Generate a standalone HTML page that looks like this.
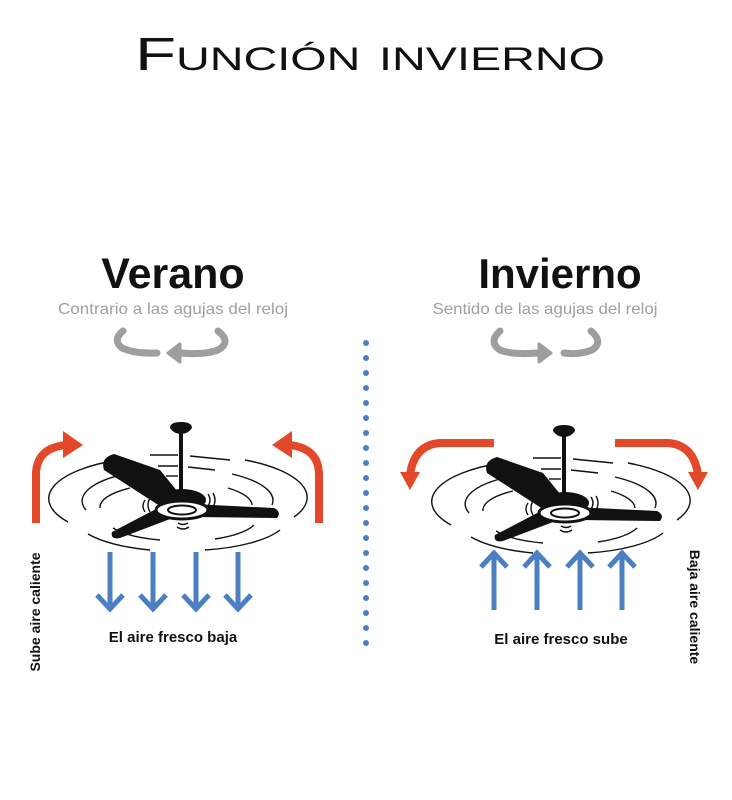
<!DOCTYPE html>
<html><head><meta charset="utf-8"><style>
html,body{margin:0;padding:0;background:#fff;}
svg{display:block;}
</style></head><body>
<svg width="732" height="800" viewBox="0 0 732 800" xmlns="http://www.w3.org/2000/svg">
<defs>
<g id="fan">
  <g fill="none" stroke="#111" stroke-width="1.4">
    <path d="M68,522 A114,42 0 0 1 118,460"/>
    <path d="M245,460 A114,42 0 0 1 294,517"/>
    <path d="M88,534 A102,34 0 0 0 150,550"/>
    <path d="M205,550 A102,34 0 0 0 280,530"/>
    <path d="M86,510 A94,32 0 0 1 130,473"/>
    <path d="M232,474 A94,32 0 0 1 272,505"/>
    <path d="M100,508 A76,24 0 0 1 130,488"/>
    <path d="M228,488 A76,24 0 0 1 252,505"/>
    <path d="M113,528 A76,24 0 0 0 160,540"/>
    <path d="M215,539 A76,24 0 0 0 254,525"/>
    <path d="M150,455 L178,455"/><path d="M190,456 L230,460"/>
    <path d="M158,466 L178,466"/><path d="M188,467 L215,470"/>
    <path d="M166,476 L178,476"/>
    <path d="M145,500 q-4,6 0,12"/><path d="M150,498 q-4,7 0,14"/>
    <path d="M208,494 q4,6 0,12"/><path d="M213,493 q4,7 0,14"/>
    <path d="M178,523 q5,3 10,0"/><path d="M177,527 q6,4 12,0"/>
  </g>
  <path d="M170,428 Q170,422 181,422 Q192,422 192,428 Q188,434 181,434 Q174,434 170,428Z" fill="#111"/>
  <rect x="179" y="432" width="4" height="62" fill="#111"/>
  <path d="M104,470 Q100,458 114,454 L160,470 L182,497 L163,508 Z" fill="#111"/>
  <path d="M192,504 L274,508 Q282,512 277,518 L196,517 Z" fill="#111"/>
  <path d="M158,508 L178,516 L120,538 Q110,540 112,532 Z" fill="#111"/>
  <ellipse cx="182" cy="500" rx="24" ry="11" fill="#111"/>
  <ellipse cx="182" cy="510" rx="26" ry="9" fill="#fff" stroke="#111" stroke-width="3"/>
  <ellipse cx="182" cy="510" rx="14" ry="4.5" fill="#fff" stroke="#111" stroke-width="2"/>
</g>
</defs>

<text x="135" y="70" textLength="470" lengthAdjust="spacingAndGlyphs" font-family="'Liberation Sans',sans-serif" font-size="46" style="font-variant:small-caps" fill="#111">Función invierno</text>

<text x="173" y="288" text-anchor="middle" font-family="'Liberation Sans',sans-serif" font-weight="bold" font-size="43" fill="#111">Verano</text>
<text x="173" y="314" text-anchor="middle" textLength="230" lengthAdjust="spacingAndGlyphs" font-family="'Liberation Sans',sans-serif" font-size="16" fill="#a0a0a0">Contrario a las agujas del reloj</text>
<text x="560" y="288" text-anchor="middle" font-family="'Liberation Sans',sans-serif" font-weight="bold" font-size="42" fill="#111">Invierno</text>
<text x="545" y="314" text-anchor="middle" textLength="225" lengthAdjust="spacingAndGlyphs" font-family="'Liberation Sans',sans-serif" font-size="16" fill="#a0a0a0">Sentido de las agujas del reloj</text>

<g fill="none" stroke="#9e9e9e" stroke-width="7" stroke-linecap="round">
  <path d="M123,331 Q112,340 122,348 Q135,354 157,353"/>
  <path d="M218,331 Q232,342 218,350 Q205,355 180,353"/>
  <path d="M500,331 Q488,342 500,350 Q512,355 538,353"/>
  <path d="M591,331 Q604,342 592,350 Q580,355 564,353"/>
</g>
<path d="M168,353 L180,344 L180,362 Z" fill="#9e9e9e" stroke="#9e9e9e" stroke-width="3" stroke-linejoin="round"/>
<path d="M551,353 L539,344 L539,362 Z" fill="#9e9e9e" stroke="#9e9e9e" stroke-width="3" stroke-linejoin="round"/>

<line x1="366" y1="343" x2="366" y2="645" stroke="#4a7fc1" stroke-width="6" stroke-linecap="round" stroke-dasharray="0 15"/>

<use href="#fan"/>
<use href="#fan" transform="translate(383,3)"/>

<g fill="none" stroke="#e2492a" stroke-width="8">
  <path d="M36,523 L36,475 Q36,448 66,445"/>
  <path d="M319,523 L319,475 Q319,448 289,445"/>
  <path d="M494,443 L440,443 Q414,445 410,475"/>
  <path d="M615,443 L668,443 Q694,445 698,475"/>
</g>
<g fill="#e2492a">
  <path d="M63,431 L83,445 L63,458 Z"/>
  <path d="M292,431 L272,445 L292,458 Z"/>
  <path d="M400,472 L420,472 L410,490 Z"/>
  <path d="M688,472 L708,472 L698,490 Z"/>
</g>

<g stroke="#4a7fc1" stroke-width="5" fill="none">
  <path d="M110,552 L110,605"/><path d="M97,595 L110,609 L123,595"/>
  <path d="M153,552 L153,605"/><path d="M140,595 L153,609 L166,595"/>
  <path d="M196,552 L196,605"/><path d="M183,595 L196,609 L209,595"/>
  <path d="M238,552 L238,605"/><path d="M225,595 L238,609 L251,595"/>
  <path d="M494,610 L494,557"/><path d="M481,567 L494,553 L507,567"/>
  <path d="M537,610 L537,557"/><path d="M524,567 L537,553 L550,567"/>
  <path d="M580,610 L580,557"/><path d="M567,567 L580,553 L593,567"/>
  <path d="M622,610 L622,557"/><path d="M609,567 L622,553 L635,567"/>
</g>

<text x="173" y="642" text-anchor="middle" font-family="'Liberation Sans',sans-serif" font-weight="bold" font-size="15" fill="#111">El aire fresco baja</text>
<text x="561" y="644" text-anchor="middle" font-family="'Liberation Sans',sans-serif" font-weight="bold" font-size="15" fill="#111">El aire fresco sube</text>

<text transform="translate(40,612) rotate(-90)" text-anchor="middle" font-family="'Liberation Sans',sans-serif" font-weight="bold" font-size="14" fill="#111">Sube aire caliente</text>
<text transform="translate(690,607) rotate(90)" text-anchor="middle" font-family="'Liberation Sans',sans-serif" font-weight="bold" font-size="14" fill="#111">Baja aire caliente</text>
</svg>
</body></html>
